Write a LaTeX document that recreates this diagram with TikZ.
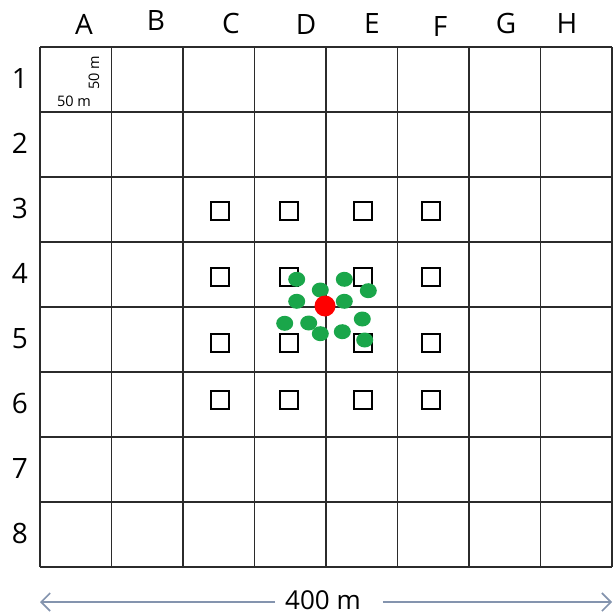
\documentclass[tikz,border=0pt]{standalone}
\usepackage{fontspec}
\setmainfont{Open Sans}
\usetikzlibrary{shapes.geometric,arrows.meta}
\definecolor{gridc}{HTML}{2B2B2B}
\definecolor{dotgreen}{HTML}{1AA64A}
\definecolor{arrowc}{HTML}{8494AE}
\tikzset{
  lab/.style={font=\fontsize{28}{30}\selectfont, text=black, inner sep=0pt},
  dimlab/.style={font=\fontsize{26}{28}\selectfont, text=black, inner sep=0pt},
  small/.style={font=\fontsize{14.5}{16}\selectfont, text=black, inner sep=0pt},
  plot/.style={draw=black, line width=1.8pt, fill=white, minimum size=18pt, inner sep=0pt},
  gdot/.style={ellipse, fill=dotgreen, minimum width=17pt, minimum height=15pt, inner sep=0pt},
  rdot/.style={circle, fill=red, minimum size=21pt, inner sep=0pt},
  gridline/.style={draw=gridc, line width=1.4pt},
  dim/.style={draw=arrowc, line width=1.6pt, -{Straight Barb[length=9pt,width=18pt,line width=1.6pt]}}
}
\begin{document}
\begin{tikzpicture}[x=1pt,y=-1pt]
\useasboundingbox (0,0) rectangle (613,615);
% grid
\foreach \i in {0,...,8} {
  \draw[gridline] ({40+\i*71.5},47) -- ({40+\i*71.5},567);
  \draw[gridline] (40,{47+\i*65}) -- (612,{47+\i*65});
}
% column labels
\node[lab] (cA) at (84,24) {A};
\node[lab] (cB) at (156,21) {B};
\node[lab] (cC) at (231,24) {C};
\node[lab] (cD) at (306,25) {D};
\node[lab] (cE) at (372,24) {E};
\node[lab] (cF) at (440,27) {F};
\node[lab] (cG) at (506,24) {G};
\node[lab] (cH) at (567,24) {H};
% row labels
\foreach \r in {1,...,8} {
  \node[lab] (r\r) at (20,{79.5+(\r-1)*65 - 1}) {\r};
}
% cell size labels
\node[small] (w50) at (74,101) {50 m};
\node[small, rotate=90] (h50) at (94,73) {50 m};
% plots
\foreach \x [count=\ci] in {220,289,363,431} {
  \foreach \y [count=\ri] in {211,277,343,400} {
    \node[plot] (p\ci\ri) at (\x,\y) {};
  }
}
% green dots
\node[gdot] (g1) at (296.7,279.3) {};
\node[gdot] (g2) at (344.3,279.3) {};
\node[gdot] (g3) at (368.3,290.7) {};
\node[gdot] (g4) at (320.3,290) {};
\node[gdot] (g5) at (296.7,301.3) {};
\node[gdot] (g6) at (344.3,301.3) {};
\node[gdot] (g8) at (362.3,319) {};
\node[gdot] (g9) at (284.7,323.3) {};
\node[gdot] (g10) at (308.7,323) {};
\node[gdot] (g11) at (320.3,333.7) {};
\node[gdot] (g12) at (342.3,331.7) {};
\node[gdot] (g13) at (364.7,340) {};
% red centre
\node[rdot] (center) at (325,306) {};
% dimension arrow
\node[dimlab] (dimtext) at (323,600) {400 m};
\coordinate (dl) at (40,602);
\coordinate (dr) at (612,602);
\draw[dim] (dimtext.west |- dl) ++(-10,0) -- (dl);
\draw[dim] (dimtext.east |- dr) ++(22,0) -- (dr);
\end{tikzpicture}
\end{document}
